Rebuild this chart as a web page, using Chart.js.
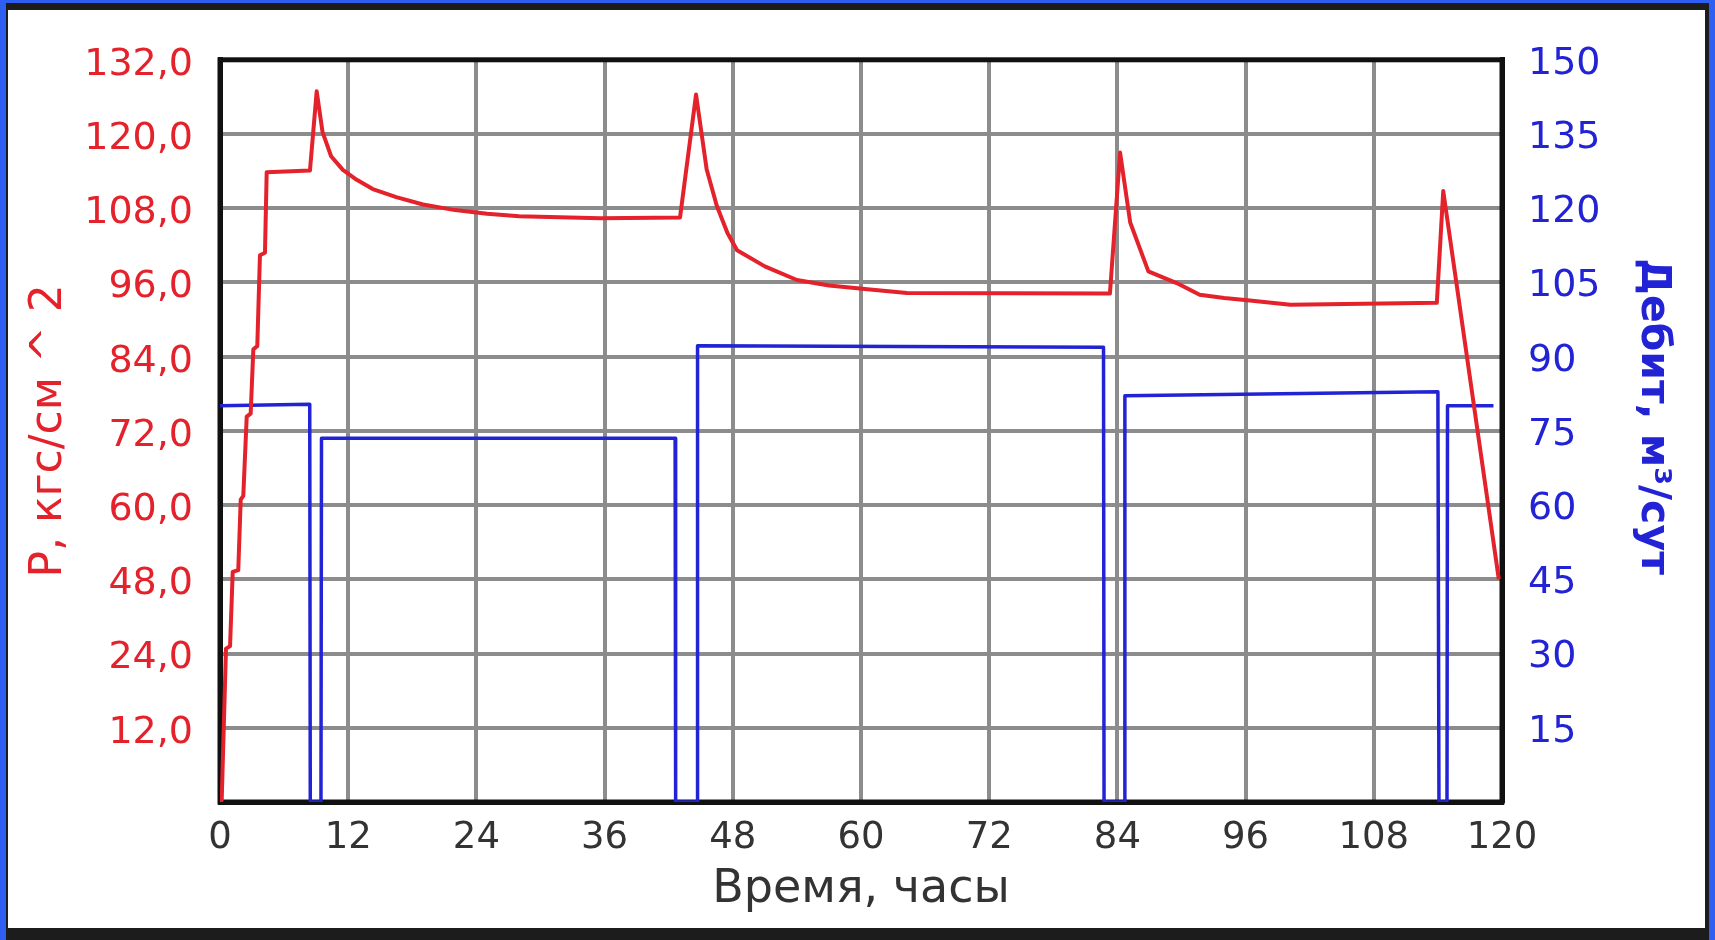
<!DOCTYPE html>
<html>
<head>
<meta charset="utf-8">
<script src="https://cdn.jsdelivr.net/npm/chart.js@4.4.1/dist/chart.umd.min.js"></script>
<style>
    html, body { margin: 0; padding: 0; }
    body { width: 1715px; height: 940px; background: #2f5ef2; position: relative; overflow: hidden; }
    #frame { position: absolute; left: 6px; top: 3px; width: 1703px; height: 937px; background: #1c1c1c; }
    #box { position: absolute; left: 2px; top: 7px; width: 1697px; height: 918px; background: #fff; }
</style>
</head>
<body>
<div id="frame"><div id="box"><canvas id="chart"></canvas></div></div>
<script>
// время, часы
var hourTicks = [0, 12, 24, 36, 48, 60, 72, 84, 96, 108, 120];
// подписи левой оси снизу вверх (как на исходном графике)
var pressureTickLabels = ['', '12,0', '24,0', '48,0', '60,0', '72,0', '84,0', '96,0', '108,0', '120,0', '132,0'];
var rateTickLabels = ['', '15', '30', '45', '60', '75', '90', '105', '120', '135', '150'];

// давление P, кгс/см^2
var pressureHours = [0, 0.16, 0.56, 0.94, 1.19, 1.71, 1.94, 2.18, 2.5, 2.87, 3.12, 3.49, 3.74, 4.21, 4.37, 8.42,
    9.05, 9.6, 10.4, 11.5, 12.8, 14.3, 16.5, 19, 22, 25, 28, 35.6, 43.06,
    44.56, 45.55, 46.5, 47.5, 48.4, 51, 54, 57, 60.6, 64.3,
    83.3, 84.25, 85.2, 86.9, 89.55, 91.7, 94, 96.4, 100.2, 113.9, 114.5, 119.7];
var pressureValues = [12, 12.3, 36.8, 37.2, 49.2, 49.5, 60.9, 61.5, 74.3, 74.8, 85.2, 85.7, 100.4, 100.8, 113.8, 114.1,
    126.9, 120.3, 116.4, 114.2, 112.6, 111.1, 109.8, 108.6, 107.7, 107.1, 106.7, 106.4, 106.5,
    126.4, 114.3, 108.4, 104.0, 101.2, 98.6, 96.4, 95.5, 94.9, 94.3,
    94.2, 117, 105.7, 97.8, 95.9, 94.0, 93.5, 93.1, 92.4, 92.7, 110.8, 48];

// дебит, м3/сут
var rateHours = [0, 8.4, 8.45, 9.45, 9.5, 42.6, 42.65, 44.65, 44.7, 82.7, 82.75, 84.65, 84.7, 114.0, 114.1, 114.85, 114.9, 119.2];
var rateValues = [80.1, 80.4, 0, 0, 73.5, 73.5, 0, 0, 92.2, 91.9, 0, 0, 82.1, 82.9, 0, 0, 80.1, 80.1];

function toPoints(xs, ys) {
    var pts = [];
    for (var i = 0; i < xs.length; i++) pts.push({x: xs[i], y: ys[i]});
    return pts;
}

var plotFrame = {
    id: 'plotFrame',
    beforeDatasetsDraw: function (chart) {
        var a = chart.chartArea, ctx = chart.ctx;
        ctx.save();
        ctx.strokeStyle = '#111';
        ctx.lineWidth = 5;
        ctx.strokeRect(a.left, a.top, a.right - a.left, a.bottom - a.top);
        ctx.restore();
    }
};

var red = '#e3222b', blue = '#2323d6', gridGray = '#8c8c8c';
var tickFont = {family: 'DejaVu Sans', size: 38};

new Chart(document.getElementById('chart'), {
    type: 'line',
    data: {
        datasets: [
            {data: toPoints(pressureHours, pressureValues), yAxisID: 'y', borderColor: red, borderWidth: 4},
            {data: toPoints(rateHours, rateValues), yAxisID: 'y2', borderColor: blue, borderWidth: 3.5}
        ]
    },
    options: {
        responsive: true,
        maintainAspectRatio: false,
        animation: false,
        layout: {padding: {top: 43, left: 0, right: 0, bottom: 0}},
        elements: {point: {radius: 0}, line: {tension: 0, borderJoinStyle: 'round'}},
        plugins: {legend: {display: false}, tooltip: {enabled: false}},
        scales: {
            x: {
                type: 'linear', min: 0, max: 120,
                afterBuildTicks: function (s) { s.ticks = hourTicks.map(function (v) { return {value: v}; }); },
                afterFit: function (s) { s.height = 126; },
                grid: {color: gridGray, lineWidth: 4, drawTicks: false},
                border: {color: '#111', width: 5},
                ticks: {color: '#333', font: {family: 'DejaVu Sans', size: 37}, padding: 14, maxRotation: 0,
                    callback: function (v) { return String(v); }},
                title: {display: true, text: 'Время, часы', color: '#333',
                    font: {family: 'DejaVu Sans', size: 46}, padding: {top: 0, bottom: 10}}
            },
            y: {
                position: 'left', min: 12, max: 132,
                ticks: {stepSize: 12, color: red, font: tickFont, padding: 27, labelOffset: 5,
                    callback: function (v, i) { return pressureTickLabels[i]; }},
                afterFit: function (s) { s.width = 212; },
                grid: {color: gridGray, lineWidth: 4, drawTicks: false},
                border: {color: '#111', width: 5},
                title: {display: true, text: 'P, кгс/см ^ 2', color: red,
                    font: {family: 'DejaVu Sans', size: 44}, padding: {top: 15, bottom: 0}}
            },
            y2: {
                position: 'right', min: 0, max: 150,
                ticks: {stepSize: 15, color: blue, font: tickFont, padding: 26, labelOffset: 4,
                    callback: function (v, i) { return rateTickLabels[i]; }},
                afterFit: function (s) { s.width = 203; },
                grid: {display: false, drawTicks: false},
                border: {color: '#111', width: 5},
                title: {display: true, text: 'Дебит, м³/сут  ', color: blue,
                    font: {family: 'DejaVu Sans', size: 41, weight: 'bold'}, padding: {top: 28, bottom: 0}}
            }
        }
    },
    plugins: [plotFrame]
});
</script>
</body>
</html>
